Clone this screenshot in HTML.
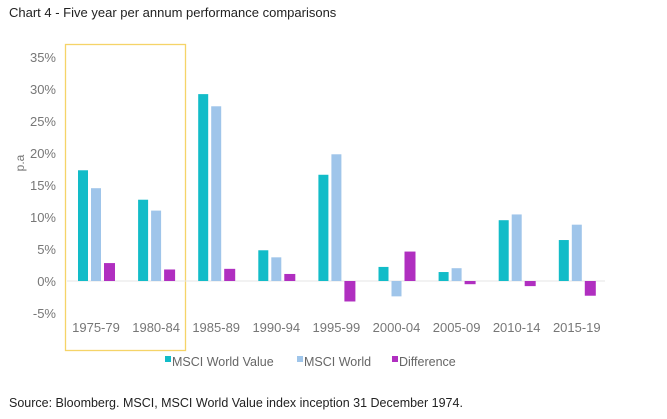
<!DOCTYPE html>
<html><head><meta charset="utf-8"><style>
body{margin:0;background:#fff;width:667px;height:419px;overflow:hidden;font-family:"Liberation Sans",sans-serif}
svg{position:absolute;left:0;top:0}
</style></head><body>
<svg width="667" height="419">
<text x="9" y="17" font-size="13" fill="#222">Chart 4 - Five year per annum performance comparisons</text>
<text x="9" y="407" font-size="12.5" fill="#222">Source: Bloomberg. MSCI, MSCI World Value index inception 31 December 1974.</text>
<rect x="65.5" y="44.5" width="120" height="306" fill="none" stroke="#f5d468" stroke-width="1.3"/>
<text transform="translate(24,163) rotate(-90)" text-anchor="middle" font-size="12" fill="#777">p.a</text>
<g id="g"></g>
</svg>
<script>
const categories=["1975-79","1980-84","1985-89","1990-94","1995-99","2000-04","2005-09","2010-14","2015-19"];
const valueSeries=[17.3,12.7,29.2,4.8,16.6,2.2,1.4,9.5,6.4];
const worldSeries=[14.5,11.0,27.3,3.7,19.8,-2.4,2.0,10.4,8.8];
const diffSeries=[2.8,1.8,1.9,1.1,-3.2,4.6,-0.5,-0.8,-2.3];
const yTicks=[-5,0,5,10,15,20,25,30,35];
const NS="http://www.w3.org/2000/svg",g=document.getElementById('g');
function y(v){return 281-v*6.4}
function cx(i){return 96+i*60.1}
function mk(t,a){const e=document.createElementNS(NS,t);for(const k in a)e.setAttribute(k,a[k]);g.appendChild(e);return e}
yTicks.forEach(v=>{const e=mk('text',{x:56,y:y(v)+5,'text-anchor':'end','font-size':13,fill:'#777'});e.textContent=v+'%';

});
const base=mk('line',{x1:67,x2:605,y1:281,y2:281,stroke:'#e6e6e6','stroke-width':1});


const series=[[valueSeries,'#12bcc8',-18],[worldSeries,'#9fc5ea',-5],[diffSeries,'#b02fc0',8]];
categories.forEach((c,i)=>{
 series.forEach(([arr,col,off],s)=>{const v=arr[i];const r=mk('rect',{x:cx(i)+off,width:s==2?11:10,y:Math.min(y(v),y(0)),height:Math.abs(y(v)-y(0)),fill:col});
 
 });
 const t=mk('text',{x:cx(i),y:332,'text-anchor':'middle','font-size':13,fill:'#777'});t.textContent=c;
 
 
});
[['MSCI World Value','#12bcc8',165],['MSCI World','#9fc5ea',297],['Difference','#b02fc0',392]].forEach(([n,c,x])=>{
 const r=mk('rect',{x:x,y:356,width:6,height:6,fill:c});
 
 
 const t=mk('text',{x:x+7,y:366,'font-size':12.5,fill:'#666'});t.textContent=n;
 
 
});
</script>
</body></html>
